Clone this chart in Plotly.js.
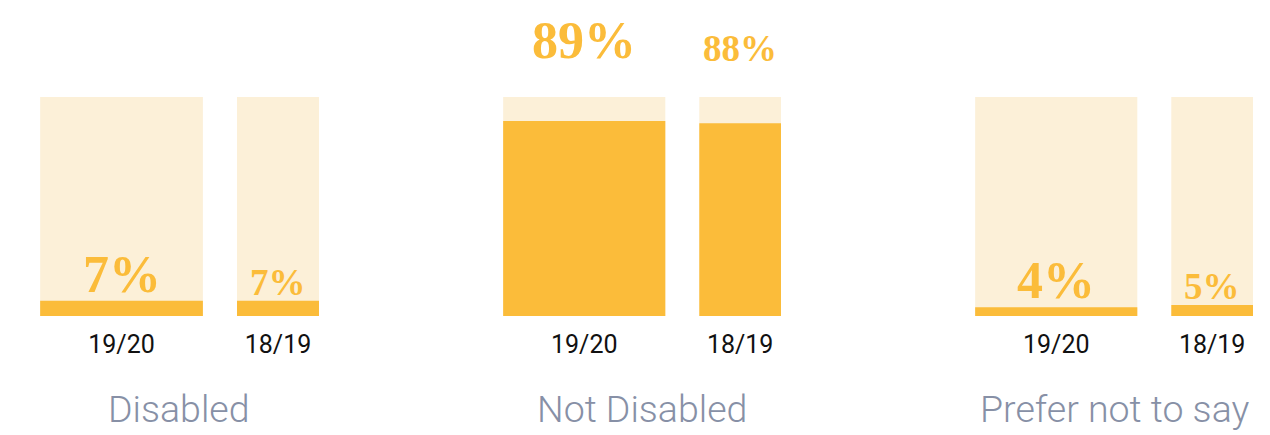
<!DOCTYPE html>
<html>
<head>
<meta charset="utf-8">
<script src="https://cdn.plot.ly/plotly-3.0.1.min.js"></script>
<style>html,body{margin:0;padding:0;background:#fff;}#chart{width:1270px;height:435px;}</style>
</head>
<body>
<div id="chart"></div>
<script>
// ---- data ----
const groups = ["Disabled", "Not Disabled", "Prefer not to say"];
const periods = ["19/20", "18/19"];
const share1920 = [7, 89, 4];
const share1819 = [7, 88, 5];
const fullShare = 100;

// ---- styling ----
const FILL = "#FBBC3A";
const BACK = "#FCF0D8";
const LABEL_GREY = "#8790A6";
const NUM_FONT = "Liberation Serif, DejaVu Serif, serif";
const W = 1270, H = 435;
const xDomainsPx = [[40, 319], [503, 781], [975, 1253]];
const barWidths = [1.04, 0.524];
const xRange = [-0.521, 1.262];
const plotBottomPx = 316, plotTopPx = 97;
const yDomain = [(H - plotBottomPx) / H, (H - plotTopPx) / H];

const traces = [];
const annotations = [];
const layout = {
  width: W, height: H,
  margin: {l: 0, r: 0, t: 0, b: 0},
  paper_bgcolor: "#ffffff", plot_bgcolor: "rgba(0,0,0,0)",
  barmode: "overlay",
  showlegend: false,
  font: {family: "Roboto, Liberation Sans, sans-serif"}
};

groups.forEach((g, i) => {
  const n = i === 0 ? "" : String(i + 1);
  const xa = "x" + n, ya = "y" + n;
  const vals = [share1920[i], share1819[i]];
  traces.push({
    type: "bar", x: periods, y: periods.map(() => fullShare), xaxis: xa, yaxis: ya,
    width: barWidths, marker: {color: BACK, line: {width: 0}}, hoverinfo: "skip"
  });
  traces.push({
    type: "bar", x: periods, y: vals, xaxis: xa, yaxis: ya,
    width: barWidths, marker: {color: FILL, line: {width: 0}}, hoverinfo: "skip"
  });
  layout["xaxis" + n] = {
    domain: [xDomainsPx[i][0] / W, xDomainsPx[i][1] / W],
    anchor: ya, type: "category", range: xRange,
    showgrid: false, zeroline: false, showline: false, ticks: "",
    tickfont: {size: 25, color: "#111111", family: "Roboto, Liberation Sans, sans-serif"},
    ticklabelstandoff: 11, fixedrange: true
  };
  layout["yaxis" + n] = {
    domain: yDomain, anchor: xa, range: [0, fullShare],
    showgrid: false, zeroline: false, showline: false, showticklabels: false, ticks: "",
    fixedrange: true
  };
  vals.forEach((v, j) => {
    const big = j === 0;
    const outside = v > 50;
    annotations.push({
      xref: xa, yref: ya, x: periods[j], y: outside ? fullShare : v,
      yanchor: "bottom", xanchor: "center", showarrow: false,
      yshift: outside ? 26 : -4,
      text: "<b>" + v + "%</b>",
      font: {family: NUM_FONT, size: big ? 52 : 37, color: FILL}
    });
  });
  annotations.push({
    xref: xa + " domain", yref: "paper", x: 0.5, y: (H - 409) / H,
    xanchor: "center", yanchor: "middle", showarrow: false,
    text: g,
    font: {family: "Roboto, Liberation Sans, sans-serif", size: 37.5, color: LABEL_GREY, weight: 300}
  });
});
layout.annotations = annotations;

Plotly.newPlot("chart", traces, layout, {displayModeBar: false, staticPlot: true});
</script>
</body>
</html>
